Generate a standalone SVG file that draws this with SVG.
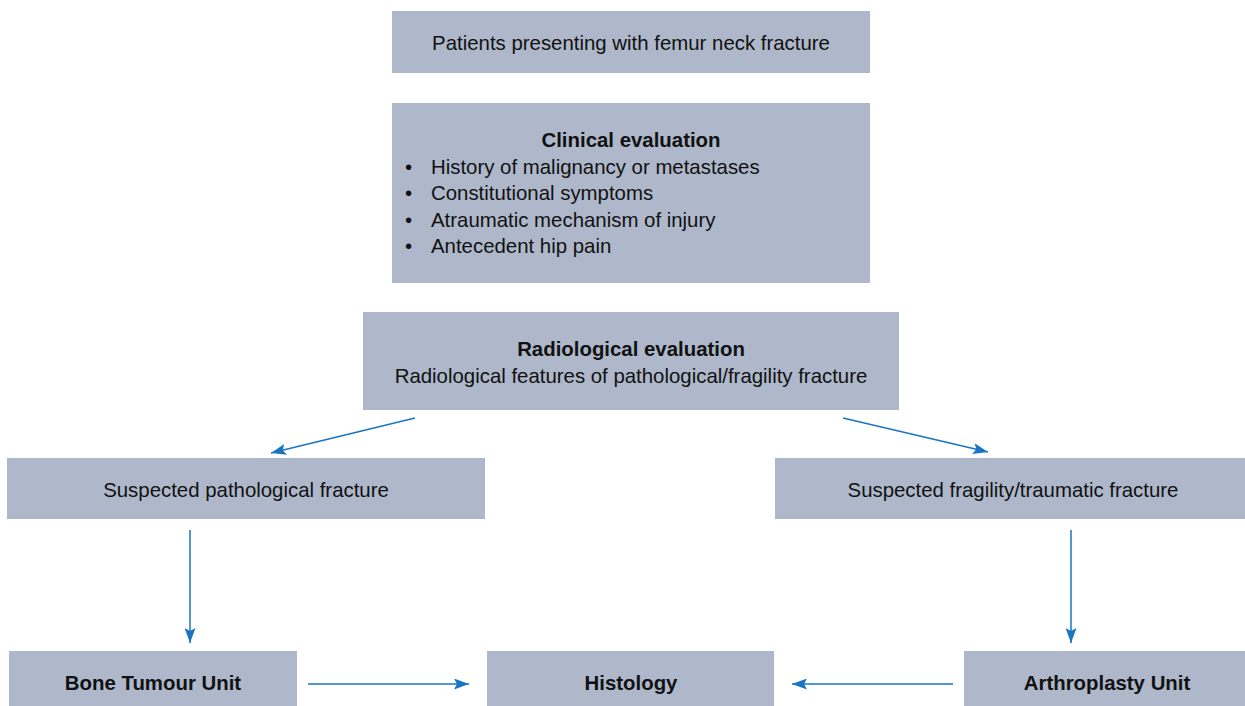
<svg xmlns="http://www.w3.org/2000/svg" width="1245" height="706" viewBox="0 0 1245 706">
<defs>
<style>
.box{fill:#aeb8ca;}
.t{font-family:"Liberation Sans",Arial,sans-serif;font-size:20.4px;fill:#111;}
.c{text-anchor:middle;}
.b{font-weight:bold;}
.conn{stroke:#1a74c4;stroke-width:1.5;fill:none;marker-end:url(#ah);}
</style>
<marker id="ah" viewBox="0 0 15 11" refX="15" refY="5.5" markerWidth="15" markerHeight="11" markerUnits="userSpaceOnUse" orient="auto">
<path d="M0,0 L15,5.5 L0,11 L3,5.5 Z" fill="#1a74c4"/>
</marker>
</defs>
<rect width="1245" height="706" fill="#fff"/>
<g id="n1"><rect class="box" x="392" y="11" width="478" height="62"/><text class="t c" x="631" y="50">Patients presenting with femur neck fracture</text></g>
<g id="n2"><rect class="box" x="392" y="103" width="478" height="180"/>
<text class="t c b" x="631" y="147">Clinical evaluation</text>
<text class="t" x="405" y="174">•</text><text class="t" x="431" y="174">History of malignancy or metastases</text>
<text class="t" x="405" y="200">•</text><text class="t" x="431" y="200">Constitutional symptoms</text>
<text class="t" x="405" y="227">•</text><text class="t" x="431" y="227">Atraumatic mechanism of injury</text>
<text class="t" x="405" y="253">•</text><text class="t" x="431" y="253">Antecedent hip pain</text>
</g>
<g id="n3"><rect class="box" x="363" y="312" width="536" height="98"/>
<text class="t c b" x="631" y="356">Radiological evaluation</text>
<text class="t c" x="631" y="383">Radiological features of pathological/fragility fracture</text>
</g>
<g id="n4"><rect class="box" x="7" y="458" width="478" height="61"/><text class="t c" x="246" y="497">Suspected pathological fracture</text></g>
<g id="n5"><rect class="box" x="775" y="458" width="470" height="61"/><text class="t c" x="1013" y="497">Suspected fragility/traumatic fracture</text></g>
<g id="n6"><rect class="box" x="9" y="651" width="288" height="55"/><text class="t c b" x="153" y="690">Bone Tumour Unit</text></g>
<g id="n7"><rect class="box" x="487" y="651" width="287" height="55"/><text class="t c b" x="631" y="690">Histology</text></g>
<g id="n8"><rect class="box" x="964" y="651" width="281" height="55"/><text class="t c b" x="1107" y="690">Arthroplasty Unit</text></g>
<g id="connectors">
<line class="conn" x1="415" y1="418" x2="271" y2="453"/>
<line class="conn" x1="843" y1="418" x2="988" y2="452"/>
<line class="conn" x1="190" y1="530" x2="190" y2="643"/>
<line class="conn" x1="1071" y1="530" x2="1071" y2="643"/>
<line class="conn" x1="308" y1="684" x2="469" y2="684"/>
<line class="conn" x1="953" y1="684" x2="792" y2="684"/>
</g>
</svg>
